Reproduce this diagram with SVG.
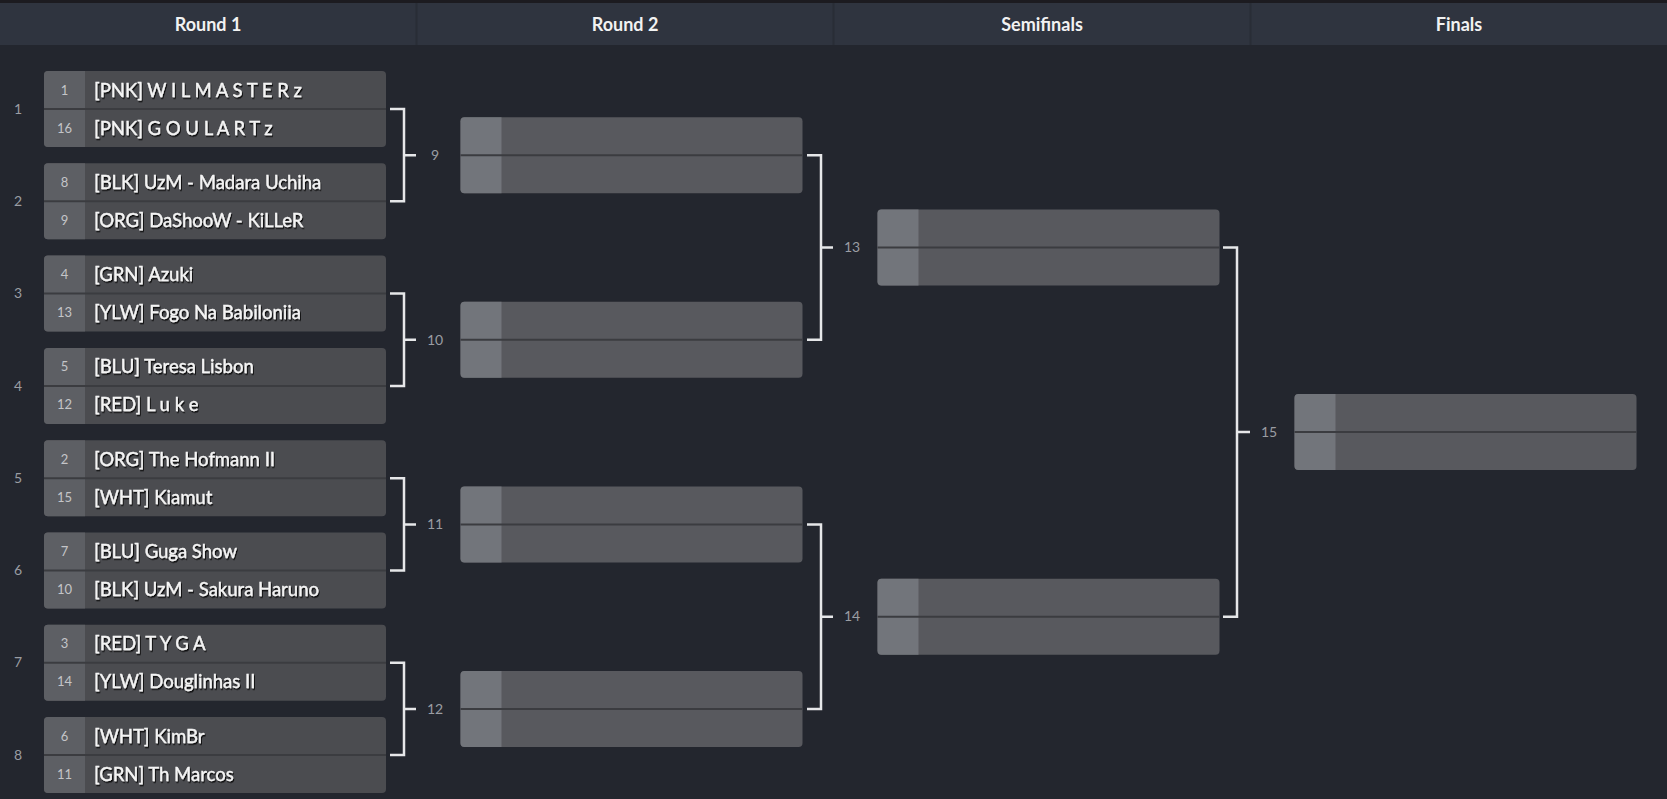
<svg xmlns="http://www.w3.org/2000/svg" width="1667" height="799" viewBox="0 0 1667 799">
<defs>
<style>
.hdr{font-family:Lato,"Liberation Sans",sans-serif;font-weight:bold;font-size:18px;fill:#f2f2f2;text-anchor:middle}
.mnum{font-family:Lato,"Liberation Sans",sans-serif;font-size:14px;fill:#9a9da3;text-anchor:middle}
.seed{font-family:Lato,"Liberation Sans",sans-serif;font-size:13px;fill:#c4c5c8;text-anchor:middle}
.name{font-family:Lato,"Liberation Sans",sans-serif;font-size:18.5px;fill:#f4f4f4;stroke:#f4f4f4;stroke-width:0.35;filter:url(#sh)}
.n1{fill:#4b4c50}.s1{fill:#5d5f64}
.n2{fill:#58595e}.s2{fill:#72757b}
.dv{stroke:#3b3c40;stroke-width:2}
.br{fill:none;stroke:#e6e7e9;stroke-width:2.5}
</style>
<filter id="sh" x="-5%" y="-30%" width="110%" height="160%">
<feDropShadow dx="1" dy="1.5" stdDeviation="0.6" flood-color="#000" flood-opacity="0.85"/>
</filter>
<g id="box1">
<rect class="n1" x="0" y="-38" width="342" height="76" rx="4"/>
<path class="s1" d="M4,-38H41V38H4A4,4 0 0 1 0,34V-34A4,4 0 0 1 4,-38Z"/>
<line class="dv" x1="0" y1="0" x2="342" y2="0"/>
</g>
<g id="box2">
<rect class="n2" x="0" y="-38" width="342" height="76" rx="4"/>
<path class="s2" d="M4,-38H41V38H4A4,4 0 0 1 0,34V-34A4,4 0 0 1 4,-38Z"/>
<line class="dv" x1="0" y1="0" x2="342" y2="0"/>
</g>
</defs>
<rect x="0" y="0" width="1667" height="799" fill="#23262e"/>
<rect x="0" y="0" width="1667" height="3" fill="#1c1b20"/>
<rect x="0" y="3" width="1667" height="42" fill="#2f343f"/>
<g stroke="#292d36" stroke-width="2">
<line x1="416.5" y1="3" x2="416.5" y2="45"/>
<line x1="833.5" y1="3" x2="833.5" y2="45"/>
<line x1="1250.5" y1="3" x2="1250.5" y2="45"/>
</g>
<g id="headers">
<text class="hdr" x="208" y="31">Round 1</text>
<text class="hdr" x="625" y="31">Round 2</text>
<text class="hdr" x="1042" y="31">Semifinals</text>
<text class="hdr" x="1459" y="31">Finals</text>
</g>
<g id="match-numbers">
<text class="mnum" x="18" y="114">1</text>
<text class="mnum" x="18" y="206">2</text>
<text class="mnum" x="18" y="298">3</text>
<text class="mnum" x="18" y="391">4</text>
<text class="mnum" x="18" y="483">5</text>
<text class="mnum" x="18" y="575">6</text>
<text class="mnum" x="18" y="667">7</text>
<text class="mnum" x="18" y="760">8</text>
<text class="mnum" x="435" y="160">9</text>
<text class="mnum" x="435" y="345">10</text>
<text class="mnum" x="435" y="529">11</text>
<text class="mnum" x="435" y="714">12</text>
<text class="mnum" x="852" y="252">13</text>
<text class="mnum" x="852" y="621">14</text>
<text class="mnum" x="1269" y="437">15</text>
</g>
<g id="connectors">
<path class="br" d="M390,109H404V201.3H390M404,155.2H416"/>
<path class="br" d="M390,293.6H404V385.9H390M404,339.8H416"/>
<path class="br" d="M390,478.2H404V570.5H390M404,524.4H416"/>
<path class="br" d="M390,662.8H404V755.1H390M404,709H416"/>
<path class="br" d="M807,155.2H821V339.8H807M821,247.5H833"/>
<path class="br" d="M807,524.4H821V709H807M821,616.7H833"/>
<path class="br" d="M1223,247.5H1237V616.7H1223M1237,432H1250"/>
</g>
<g id="m1" transform="translate(44,109)"><use href="#box1"/>
<text class="seed" x="20.5" y="-14.5">1</text><text class="name" x="50" y="-12.5">[PNK] W I L M A S T E R z</text>
<text class="seed" x="20.5" y="23.5">16</text><text class="name" x="50" y="25.5">[PNK] G O U L A R T z</text></g>
<g id="m2" transform="translate(44,201.3)"><use href="#box1"/>
<text class="seed" x="20.5" y="-14.5">8</text><text class="name" x="50" y="-12.5">[BLK] UzM - Madara Uchiha</text>
<text class="seed" x="20.5" y="23.5">9</text><text class="name" x="50" y="25.5">[ORG] DaShooW - KiLLeR</text></g>
<g id="m3" transform="translate(44,293.6)"><use href="#box1"/>
<text class="seed" x="20.5" y="-14.5">4</text><text class="name" x="50" y="-12.5">[GRN] Azuki</text>
<text class="seed" x="20.5" y="23.5">13</text><text class="name" x="50" y="25.5">[YLW] Fogo Na Babiloniia</text></g>
<g id="m4" transform="translate(44,385.9)"><use href="#box1"/>
<text class="seed" x="20.5" y="-14.5">5</text><text class="name" x="50" y="-12.5">[BLU] Teresa Lisbon</text>
<text class="seed" x="20.5" y="23.5">12</text><text class="name" x="50" y="25.5">[RED] L u k e</text></g>
<g id="m5" transform="translate(44,478.2)"><use href="#box1"/>
<text class="seed" x="20.5" y="-14.5">2</text><text class="name" x="50" y="-12.5">[ORG] The Hofmann II</text>
<text class="seed" x="20.5" y="23.5">15</text><text class="name" x="50" y="25.5">[WHT] Kiamut</text></g>
<g id="m6" transform="translate(44,570.5)"><use href="#box1"/>
<text class="seed" x="20.5" y="-14.5">7</text><text class="name" x="50" y="-12.5">[BLU] Guga Show</text>
<text class="seed" x="20.5" y="23.5">10</text><text class="name" x="50" y="25.5">[BLK] UzM - Sakura Haruno</text></g>
<g id="m7" transform="translate(44,662.8)"><use href="#box1"/>
<text class="seed" x="20.5" y="-14.5">3</text><text class="name" x="50" y="-12.5">[RED] T Y G A</text>
<text class="seed" x="20.5" y="23.5">14</text><text class="name" x="50" y="25.5">[YLW] Douglinhas II</text></g>
<g id="m8" transform="translate(44,755.1)"><use href="#box1"/>
<text class="seed" x="20.5" y="-14.5">6</text><text class="name" x="50" y="-12.5">[WHT] KimBr</text>
<text class="seed" x="20.5" y="23.5">11</text><text class="name" x="50" y="25.5">[GRN] Th Marcos</text></g>
<g id="m9" transform="translate(460.5,155.2)"><use href="#box2"/></g>
<g id="m10" transform="translate(460.5,339.8)"><use href="#box2"/></g>
<g id="m11" transform="translate(460.5,524.4)"><use href="#box2"/></g>
<g id="m12" transform="translate(460.5,709)"><use href="#box2"/></g>
<g id="m13" transform="translate(877.5,247.5)"><use href="#box2"/></g>
<g id="m14" transform="translate(877.5,616.7)"><use href="#box2"/></g>
<g id="m15" transform="translate(1294.5,432)"><use href="#box2"/></g>
</svg>
